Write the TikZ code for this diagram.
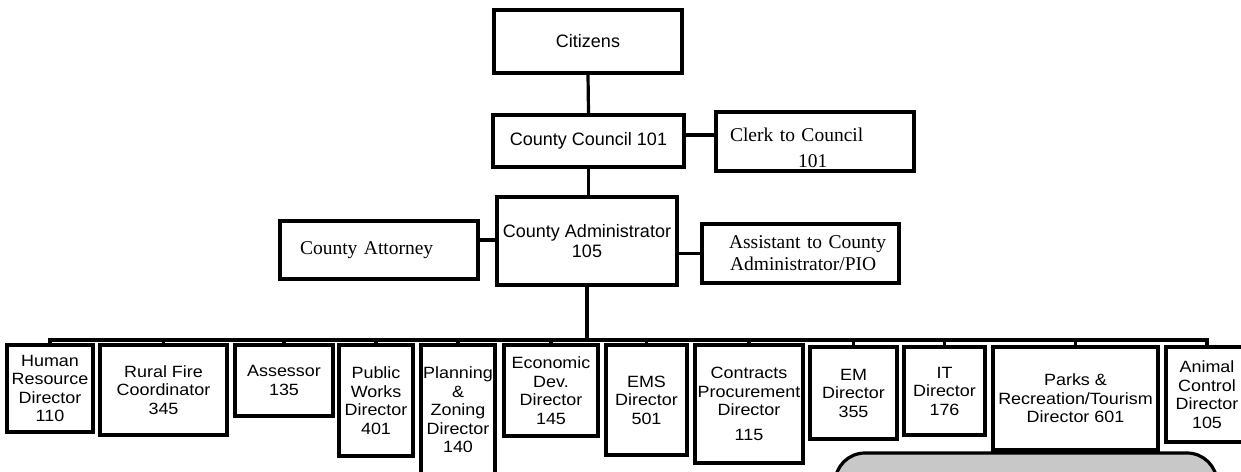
\documentclass[tikz,border=0pt]{standalone}
\usepackage{fontspec}
\newfontfamily\arialfont{Liberation Sans}
\newfontfamily\arialwide{Liberation Sans}[FakeStretch=1.1]
\newfontfamily\timesfont{Liberation Serif}
% box by its corners: style, name, x1, y1, x2, y2, text
\newcommand\orgbox[7]{%
  \node[#1, minimum width={(#5-#3)*1pt}, minimum height={(#6-#4)*1pt}]
    (#2) at ({(#3+#5)/2},{(#4+#6)/2}) {#7};}
\begin{document}
\begin{tikzpicture}[x=1pt,y=-1pt,
  box/.style={draw=black, line width=3.2pt, fill=white, inner sep=0pt, align=center},
  topbox/.style={box, font=\arialfont\fontsize{18}{20.5}\selectfont},
  serifbox/.style={box, font=\timesfont\fontsize{19.5}{22}\selectfont},
  deptbox/.style={box, font=\arialwide\fontsize{16.3}{18.5}\selectfont},
  notebox/.style={draw=black, line width=3.2pt, rounded corners=30pt,
    fill={rgb,255:red,200;green,200;blue,200}},
  link/.style={draw=black, line width=3.2pt},
]
\useasboundingbox (0,0) rectangle (1241,471);
\clip (0,0) rectangle (1241,471);

% upper levels
\orgbox{topbox}{cit}{494}{10}{682}{73}{Citizens}
\orgbox{topbox}{council}{493}{115}{684}{167}{County Council 101}
\orgbox{serifbox, align=left, text width=198pt}{clerk}{716}{112}{914}{171}%
  {\rule{0pt}{27pt}\hspace*{14pt}Clerk to Council\\[4pt]\hspace*{82pt}101}
\orgbox{topbox}{admin}{497}{197}{677}{285}{County Administrator\\105}
\orgbox{serifbox, align=left, text width=198pt}{attorney}{280}{221}{478}{279}%
  {\hspace*{20pt}County Attorney}
\orgbox{serifbox, align=left, text width=197pt}{assistant}{702}{224}{899}{283}%
  {\hspace*{27pt}Assistant to County\\\hspace*{28pt}Administrator/PIO}

% departments
\orgbox{deptbox}{hr}{7}{345}{93}{432}{Human\\Resource\\Director\\110}
\orgbox{deptbox}{rural}{100}{345}{227}{435}{Rural Fire\\Coordinator\\345}
\orgbox{deptbox}{assessor}{235}{345}{333}{416}{Assessor\\135}
\orgbox{deptbox}{works}{339}{345}{413}{456}{Public\\Works\\Director\\401}
\orgbox{deptbox}{planning}{421}{345}{495}{475}{Planning\\\&\\Zoning\\Director\\140}
\orgbox{deptbox}{econ}{504}{345}{598}{436}{Economic\\Dev.\\Director\\145}
\orgbox{deptbox}{ems}{606}{345}{687}{455}{EMS\\Director\\501}
\orgbox{deptbox}{contracts}{695}{345}{803}{463}{Contracts\\Procurement\\Director\\[6pt]115}
\orgbox{deptbox}{em}{810}{347}{897}{439}{EM\\Director\\355}
\orgbox{deptbox}{it}{904}{347}{985}{435}{IT\\Director\\176}
\orgbox{deptbox}{parks}{993}{347}{1158}{450}{Parks \&\\Recreation/Tourism\\Director 601}
\orgbox{deptbox}{animal}{1166}{347}{1248}{442}{Animal\\Control\\Director\\105}

% rounded panel at the lower right
\node[notebox, minimum width=382pt, minimum height=120pt] (note) at (1026,513) {};

% reporting lines
\draw[link] (cit.south) -- (council.north);
\draw[link] ([yshift=6pt]council.east) -- ([yshift=6pt]council.east -| clerk.west);
\draw[link] (council.south) -- (council.south |- admin.north);
\draw[link] ([yshift=10pt]attorney.east) -- ([yshift=10pt]attorney.east -| admin.west);
\draw[link] (assistant.west) -- (assistant.west -| admin.east);

\coordinate (busL) at (50,340);
\coordinate (busR) at (1207,340);
\draw[link] (admin.south) -- (admin.south |- busL);
\draw[link, line cap=rect] (busL) -- (busR);
\foreach \d in {hr,rural,assessor,works,planning,econ,ems,contracts,em,it,parks,animal}
  \draw[link] (\d.north) -- (\d.north |- busL);
\end{tikzpicture}
\end{document}
